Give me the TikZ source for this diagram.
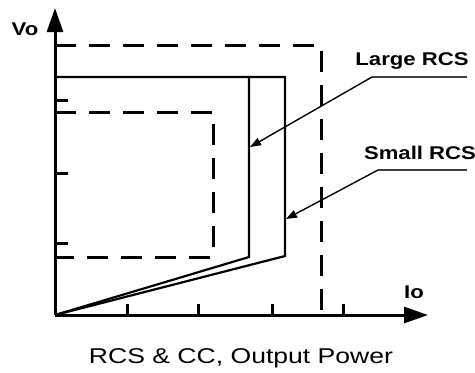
\documentclass[tikz,border=0pt]{standalone}
\usepackage{fontspec}
\setmainfont{Liberation Sans}
\usetikzlibrary{arrows.meta}
\begin{document}
\begin{tikzpicture}[x=1bp,y=-1bp,
  axis/.style={line width=3bp,-{Triangle[length=24bp,width=16bp]}},
  curve/.style={line width=2.2bp},
  limit/.style={line width=3bp,dash pattern=on 21bp off 13bp},
  tickmark/.style={line width=3bp},
  leader/.style={line width=1.4bp,draw=black!75},
  pointer/.style={leader,-{Triangle[length=11bp,width=8bp]},draw=black},
  lbl/.style={font=\fontsize{18.5}{21}\bfseries,inner sep=0pt,anchor=base,xscale=1.2},
  caption/.style={font=\fontsize{21.5}{24}\selectfont,inner sep=0pt,anchor=base,xscale=1.24}]
\useasboundingbox (0,0) rectangle (475,372);
% graph points
\coordinate (O) at (55,315);
\coordinate (ytop) at (55,8);
\coordinate (xend) at (428,315);
\coordinate (outerTL) at (55,45);
\coordinate (outerTR) at (321,45);
\coordinate (outerBR) at (321,315);
\coordinate (innerTL) at (55,112);
\coordinate (innerTR) at (213,112);
\coordinate (innerBR) at (213,257);
\coordinate (innerBL) at (55,257);
\coordinate (topL) at (55,77);
\coordinate (largeT) at (249,77);
\coordinate (largeB) at (249,257);
\coordinate (smallT) at (285,77);
\coordinate (smallB) at (285,256);
\coordinate (largeTip) at (250,147);
\coordinate (smallTip) at (286,219);
\coordinate (largeK) at (372,77);
\coordinate (largeE) at (467,77);
\coordinate (smallK) at (378,170);
\coordinate (smallE) at (467,170);
% limits (dashed)
\draw[limit] (outerTL) -- (outerTR) -- (outerBR);
\draw[limit] (innerTL) -- (innerTR) -- (innerBR) -- (innerBL);
% curves
\draw[curve] (topL) -- (smallT) -- (smallB) -- (O);
\draw[curve] (largeT) -- (largeB) -- (O);
% ticks
\foreach \y in {100,173,243} \draw[tickmark] (54,\y) -- (68,\y);
\foreach \x in {127,198,272,343} \draw[tickmark] (\x,316) -- (\x,304);
% axes
\draw[axis] (O) -- (ytop);
\draw[axis] (O) -- (xend);
% labels
\node[lbl] (vo) at (25,35) {Vo};
\node[lbl] (io) at (414,298) {Io};
\node[lbl] (large) at (412,65) {Large RCS};
\node[lbl] (small) at (420,159) {Small RCS};
\node[caption] (cap) at (241,363) {RCS \& CC, Output Power};
% leaders
\draw[leader] (largeE) -- (largeK);
\draw[pointer] (largeK) -- (largeTip);
\draw[leader] (smallE) -- (smallK);
\draw[pointer] (smallK) -- (smallTip);
\end{tikzpicture}
\end{document}
